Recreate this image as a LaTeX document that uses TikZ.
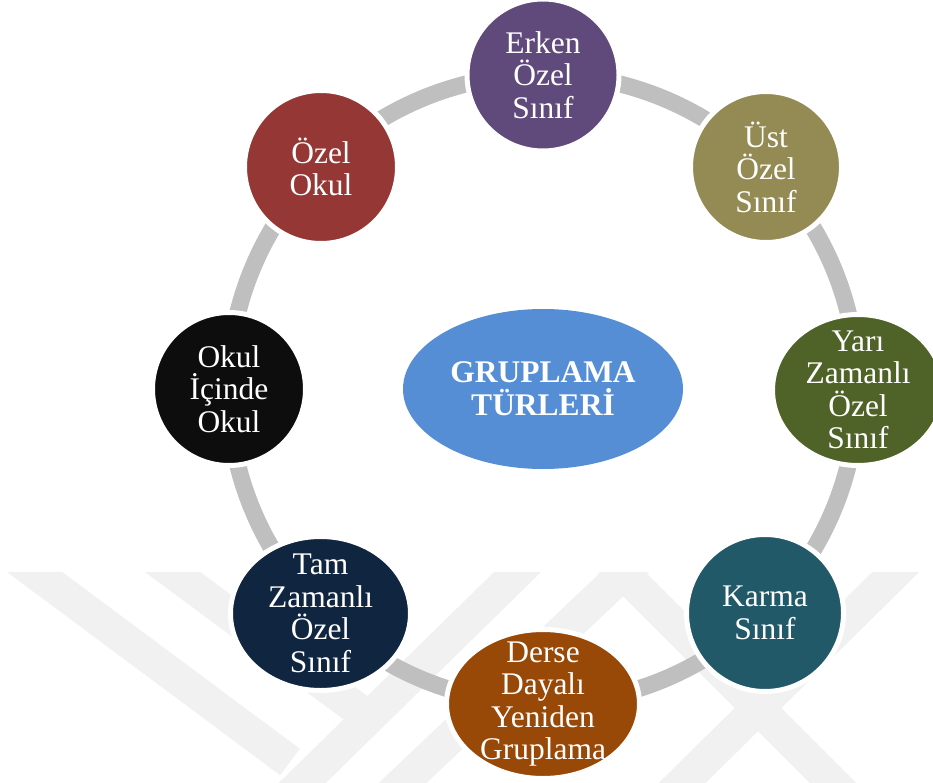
\documentclass[tikz,border=0pt]{standalone}
\usepackage{fontspec}
\setmainfont{Liberation Serif}
\usetikzlibrary{shapes.geometric}
\definecolor{ringgray}{HTML}{BFBFBF}
\definecolor{wmgray}{HTML}{F1F1F1}
\definecolor{cerken}{HTML}{604A7B}
\definecolor{cust}{HTML}{948A54}
\definecolor{cyari}{HTML}{4F6228}
\definecolor{ckarma}{HTML}{215968}
\definecolor{cderse}{HTML}{984807}
\definecolor{ctam}{HTML}{10253F}
\definecolor{cokul}{HTML}{0D0D0D}
\definecolor{cozel}{HTML}{953735}
\definecolor{chub}{HTML}{558ED5}
\tikzset{
  wm/.style={wmgray, line width=33, line cap=butt},
  ring/.style={ringgray, line width=17},
  bub/.style={circle, fill=#1, draw=white, line width=5, inner sep=0},
  ell/.style={ellipse, fill=#1, draw=white, line width=5, inner sep=0},
  txt/.style={text=white, align=center, inner sep=0, font=\fontsize{31.5}{32.5}\selectfont},
  hubtxt/.style={text=white, align=center, inner sep=0, font=\fontsize{31.5}{33}\selectfont\bfseries}
}
\begin{document}
\begin{tikzpicture}[x=1pt,y=-1pt]
\useasboundingbox (0,0) rectangle (933,783);
% faint watermark
\begin{scope}
\clip (0,572) rectangle (933,783);
\draw[wm] (5,550) -- (290,762);
\draw[wm] (143,550) -- (372,720);
\draw[wm] (290,795) -- (540,550);
\draw[wm] (390,795) -- (648,550);
\draw[wm] (670,795) -- (918,550);
\draw[wm] (600,550) -- (850,800);
\end{scope}
% hub and ring
\node[ellipse, fill=chub, minimum width=280, minimum height=160, inner sep=0] (hub) at (543,389) {};
\node[hubtxt] (hubT) at (hub) {GRUPLAMA\\TÜRLERİ};
\draw[ring] (hub) circle[radius=314.5];
% bubbles
\node[bub=cerken, minimum size=152] (erken) at (543,75) {};
\node[bub=cust, minimum size=151] (ust) at (766,167) {};
\node[ell=cyari, minimum width=171, minimum height=151] (yari) at (858,390) {};
\node[bub=ckarma, minimum size=157] (karma) at (765,613) {};
\node[ell=cderse, minimum width=193, minimum height=149] (derse) at (543,704) {};
\node[ell=ctam, minimum width=180, minimum height=154] (tam) at (320.5,613.5) {};
\node[bub=cokul, minimum size=153] (okul) at (229,389) {};
\node[bub=cozel, minimum size=153] (ozel) at (321,167) {};
% texts
\node[txt] (erkenT) at (erken) {Erken\\Özel\\Sınıf};
\node[txt] (ustT) at (ust) {Üst\\Özel\\Sınıf};
\node[txt] (yariT) at (yari) {Yarı\\Zamanlı\\Özel\\Sınıf};
\node[txt] (karmaT) at (karma) {Karma\\Sınıf};
\node[txt] (derseT) at (derse) {Derse\\Dayalı\\Yeniden\\Gruplama};
\node[txt] (tamT) at (tam) {Tam\\Zamanlı\\Özel\\Sınıf};
\node[txt] (okulT) at (okul) {Okul\\İçinde\\Okul};
\node[txt] (ozelT) at (ozel) {Özel\\Okul};
\end{tikzpicture}
\end{document}
